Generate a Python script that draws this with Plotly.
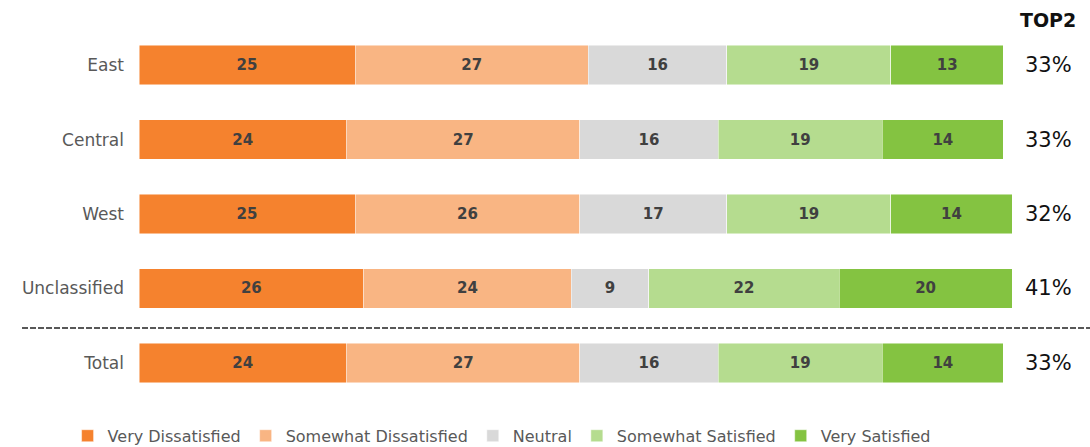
import plotly.graph_objects as go

# Satisfaction by region (% of respondents)
regions = ["East", "Central", "West", "Unclassified", "Total"]
series_names = ["Very Dissatisfied", "Somewhat Dissatisfied", "Neutral",
                "Somewhat Satisfied", "Very Satisfied"]
very_dissatisfied = [25, 24, 25, 26, 24]
somewhat_dissatisfied = [27, 27, 26, 24, 27]
neutral = [16, 16, 17, 9, 16]
somewhat_satisfied = [19, 19, 19, 22, 19]
very_satisfied = [13, 14, 14, 20, 14]
top2 = ["33%", "33%", "32%", "41%", "33%"]

series_values = [very_dissatisfied, somewhat_dissatisfied, neutral,
                 somewhat_satisfied, very_satisfied]
colors = ["#F5822E", "#F9B583", "#D9D9D9", "#B5DC8F", "#84C341"]

FONT = "Century Gothic, DejaVu Sans, sans-serif"
TOP2_X = 1.0417  # paper x of the TOP2 column

fig = go.Figure()
for name, vals, col in zip(series_names, series_values, colors):
    fig.add_trace(go.Bar(
        y=regions, x=vals, name=name, orientation="h",
        marker=dict(color=col, line=dict(color="rgba(255,255,255,0.6)", width=0.8)),
        width=0.53,
        text=vals, texttemplate="<b>%{text}</b>", textposition="inside",
        insidetextanchor="middle", constraintext="none",
        textfont=dict(family=FONT, size=15, color="#404040"),
        hoverinfo="skip",
    ))

# TOP2 column
annotations = [dict(x=TOP2_X, y=r, xref="paper", yref="y", text=t, showarrow=False,
                    font=dict(family=FONT, size=21, color="#111111"),
                    xanchor="center", yanchor="middle")
               for r, t in zip(regions, top2)]
annotations.append(dict(x=TOP2_X, y=1.0215, xref="paper", yref="paper",
                        text="<b>TOP2</b>", showarrow=False,
                        font=dict(family=FONT, size=19, color="#111111"),
                        xanchor="center", yanchor="middle"))

fig.update_layout(
    barmode="stack",
    width=1090, height=447,
    margin=dict(l=139, r=78.4, t=28, b=47, autoexpand=False),
    paper_bgcolor="white", plot_bgcolor="white",
    font=dict(family=FONT, color="#595959"),
    xaxis=dict(range=[0, 101], visible=False, fixedrange=True),
    yaxis=dict(categoryorder="array", categoryarray=regions,
               autorange="reversed", showgrid=False, zeroline=False,
               showline=False, ticks="", ticklabelstandoff=14,
               tickfont=dict(family=FONT, size=17, color="#595959")),
    legend=dict(orientation="h", xref="container", x=0.062, xanchor="left",
                yref="container", y=0.025, yanchor="middle",
                font=dict(family=FONT, size=16, color="#595959"),
                traceorder="normal", itemwidth=30, bgcolor="rgba(0,0,0,0)"),
    annotations=annotations,
    shapes=[dict(type="line", xref="paper", yref="paper", x0=-0.134, x1=1.09,
                 y0=0.1935, y1=0.1935,
                 line=dict(color="#222222", width=1.3, dash="6px,2px"))],
    showlegend=True,
)

fig.write_html("out.html")
